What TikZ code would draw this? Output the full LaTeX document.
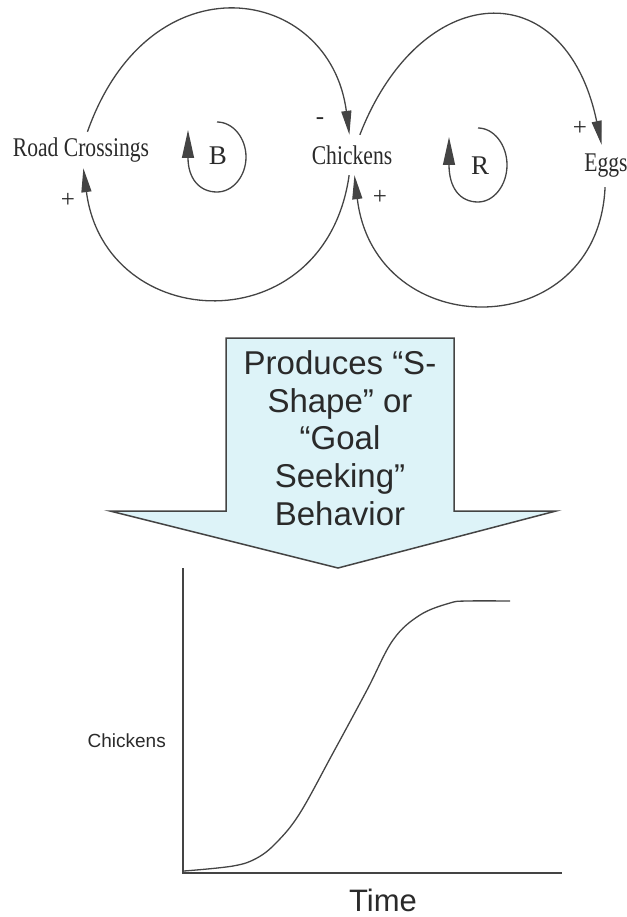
\documentclass[tikz,border=0pt]{standalone}
\usepackage{fontspec}
\setmainfont{Liberation Serif}
\newfontfamily\cldfont{Liberation Serif}[FakeStretch=0.8]
\newfontfamily\sansf{Liberation Sans}
\usetikzlibrary{arrows.meta}
\definecolor{ink}{HTML}{444444}
\definecolor{txt}{HTML}{2A2A2A}
\definecolor{panel}{HTML}{DDF3F8}
\begin{document}
\begin{tikzpicture}[x=1pt,y=-1pt,
  link/.style={draw=ink, line width=1.3pt, -{Triangle[length=24pt,width=10pt]}},
  looparrow/.style={draw=ink, line width=1.3pt, -{Triangle[length=28pt,width=12pt]}},
  var/.style={font=\cldfont\fontsize{27}{32}\selectfont, text=txt, inner xsep=0pt, inner ysep=0pt},
  sign/.style={font=\fontsize{25}{28}\selectfont, text=txt, inner sep=0pt},
  loopname/.style={font=\fontsize{27}{30}\selectfont, text=txt, inner sep=0pt},
  axis/.style={draw=ink, line width=1.2pt},
  curve/.style={draw=ink, line width=1.3pt},
  sans/.style={text=txt, inner sep=0pt}
]
\useasboundingbox (0,0) rectangle (626,917);

% causal loop variables
\node[var, minimum height=36pt] (rc) at (81,150) {Road Crossings};
\node[var, minimum height=40pt] (ch) at (352,155) {Chickens};
\node[var, minimum height=42pt] (eg) at (606,166) {Eggs};

% causal links
\draw[link] (rc) .. controls (150,-45) and (330,-15) .. (ch);
\draw[link] (ch) .. controls (325,345) and (105,335) .. (rc);
\draw[link] (ch) .. controls (420,-20) and (565,-30) .. (eg);
\draw[link] (eg) .. controls (598,345) and (375,345) .. (ch);

% link polarities
\node[sign] (p1) at (68,200) {+};
\node[sign] (m1) at (320,121) {-};
\node[sign] (p2) at (380,197) {+};
\node[sign] (p3) at (580,128) {+};

% loop identifiers
\node[loopname] (B) at (218,156) {B};
\draw[looparrow] (217,122) .. controls (233,122) and (246,138) .. (246,157)
  .. controls (246,176) and (233,192) .. (217,192)
  .. controls (199,192) and (188,178) .. (188,130);
\node[loopname] (R) at (480,166) {R};
\draw[looparrow] (478,128) .. controls (494,128) and (507,145) .. (507,165)
  .. controls (507,185) and (494,202) .. (478,202)
  .. controls (460,202) and (449,188) .. (449,137);

% block arrow
\path[draw=ink, fill=panel, line width=1.5pt, line join=miter]
  (226,338) -- (454,338) -- (454,511) -- (556,511) -- (338,568)
  -- (110,511) -- (226,511) -- cycle;
\node[sans, align=center, font=\sansf\fontsize{33}{37.8}\selectfont] (msg) at (340,438)
  {Produces “S-\\Shape” or\\“Goal\\Seeking”\\Behavior};

% behaviour over time
\coordinate (o) at (183,873);
\coordinate (ytop) at (183,568);
\coordinate (xend) at (562,873);
\draw[axis] (ytop) -- (o) -- (xend);
\draw[curve] plot[smooth, tension=0.6] coordinates {
  (184,871) (233,866) (257,858) (277,842) (300,813) (333,753)
  (367,690) (393,640) (420,615) (450,603) (467,601) (510,601)};
\node[sans, font=\sansf\fontsize{19}{23}\selectfont, anchor=base east] (ylab) at (166,747) {Chickens};
\node[sans, font=\sansf\fontsize{31}{36}\selectfont, anchor=base] (xlab) at (383,911) {Time};
\end{tikzpicture}
\end{document}
